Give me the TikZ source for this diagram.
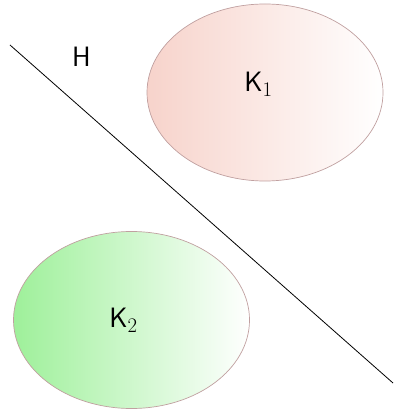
\documentclass[tikz,border=0pt]{standalone}
\usepackage{tikz}
\usetikzlibrary{shapes.geometric, positioning, calc}
\definecolor{EdgeBrown}{HTML}{C0A0A0}
\definecolor{SoftRed}{HTML}{F7D3CB}
\definecolor{SoftGreen}{HTML}{9EF09A}

\begin{document}
\begin{tikzpicture}[x=1pt, y=-1pt, font=\sffamily\fontsize{28}{32}\selectfont,
    region/.style={ellipse, draw=EdgeBrown, line width=0.7pt, minimum width=236pt, minimum height=177pt, inner sep=0pt}]
    \useasboundingbox (0,0) rectangle (393,411);
    % Sets
    \node (kone) [region, left color=SoftRed, right color=white] at (265,92.5) {};
    \node (ktwo) [region, left color=SoftGreen, right color=white] at (131.5,320) {};
    \node (konelabel) at (258.5,84.5) {K$_1$};
    \node (ktwolabel) at (123.5,320) {K$_2$};
    
    % Hyperplane
    \coordinate (hstart) at (10,45);
    \coordinate (hend) at (393,383);
    \draw[line width=0.8pt] (hstart) -- (hend);
    \node (hlabel) at (81.5,57) {H};
\end{tikzpicture}
\end{document}
